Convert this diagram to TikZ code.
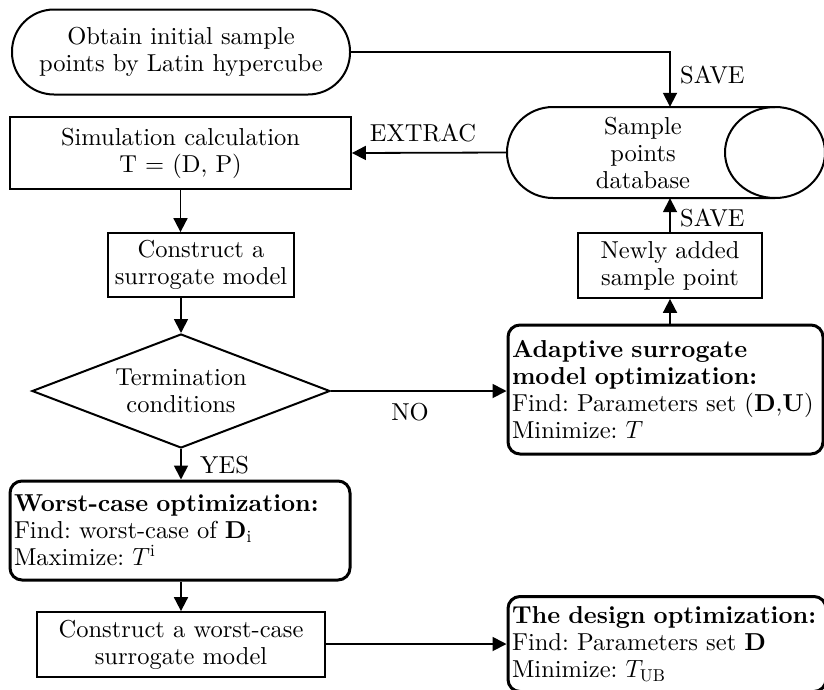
\documentclass[tikz,border=0pt]{standalone}
\usepackage{fontspec}
\setmainfont{lmroman10-regular.otf}[BoldFont=lmroman10-bold.otf,ItalicFont=lmroman10-italic.otf,BoldItalicFont=lmroman10-bolditalic.otf]
\usetikzlibrary{arrows.meta,shapes.geometric,calc}
\frenchspacing
\begin{document}
\begin{tikzpicture}[x=1pt,y=-1pt,
  font=\fontsize{24.5}{27}\selectfont,
  every node/.style={inner sep=0pt},
  plainbox/.style={draw,line width=1.8pt,align=center},
  roundbox/.style={draw,line width=3pt,rounded corners=12pt,align=left,inner xsep=4pt},
  arr/.style={line width=1.8pt,-{Triangle[length=14pt,width=14pt]}},
  lbl/.style={inner sep=0pt}
]
\useasboundingbox (0,0) rectangle (824,689);

% nodes
\node[draw,line width=2pt,rounded corners=42pt,minimum width=338pt,minimum height=85pt,align=center]
  (start) at (181,52) {Obtain initial sample\\points by Latin hypercube};
\node[plainbox,minimum width=341pt,minimum height=72pt] (sim) at (180.5,153)
  {Simulation calculation\\T = (D, P)};
\node[minimum width=318pt,minimum height=91pt] (db) at (666,152.5) {};
\node[align=center] (dbtext) at (643,153) {Sample\\points\\database};
\node[plainbox,minimum width=186pt,minimum height=64pt] (cons) at (201,265)
  {Construct a\\surrogate model};
\node[draw,line width=2pt,diamond,aspect=2.61,minimum width=298pt,minimum height=114pt,align=center]
  (dia) at (181,391) {Termination\\conditions};
\node[roundbox,minimum height=129pt,text width=307pt] (adapt) at (665.5,389.5)
  {\textbf{Adaptive surrogate}\\\textbf{model optimization:}\\Find: Parameters set (\textbf{D},\textbf{U})\\Minimize: $T$};
\node[plainbox,minimum width=184pt,minimum height=65pt] (newly) at (670,265.5)
  {Newly added\\sample point};
\node[roundbox,minimum height=99pt,text width=332pt] (worst) at (180,530.5)
  {\textbf{Worst-case optimization:}\\Find: worst-case of $\mathbf{D}_{\mathrm{i}}$\\Maximize: $T^{\mathrm{i}}$};
\node[plainbox,minimum width=288pt,minimum height=65pt] (cwc) at (181,644.5)
  {Construct a worst-case\\surrogate model};
\node[roundbox,minimum height=95pt,text width=310pt] (design) at (667,644)
  {\textbf{The design optimization:}\\Find: Parameters set \textbf{D}\\Minimize: $T_{\mathrm{UB}}$};

% database cylinder shape
\draw[line width=2pt] (553,107) -- (775,107)
  (553,198) -- (775,198)
  (553,107) arc[start angle=90,end angle=270,x radius=46,y radius=-45.5];
\draw[line width=2pt] (775,152.5) ellipse[x radius=50,y radius=45.5];

% connectors
\coordinate (c1) at (670,52);
\draw[arr] (start.east) -- (c1) -- (c1 |- db.north);
\node[lbl,anchor=west] (save1) at (680,75) {SAVE};
\draw[arr] (db.west) -- (sim.east);
\node[lbl] (extrac) at (423,133) {EXTRAC};
\draw[arr] (sim.south) -- (sim.south |- cons.north);
\draw[arr] (dia.north |- cons.south) -- (dia.north);
\draw[arr] (dia.east) -- (adapt.west |- dia.east);
\node[lbl] (no) at (410,412) {NO};
\draw[arr] (dia.south) -- (dia.south |- worst.north);
\node[lbl,anchor=west] (yes) at (200,465) {YES};
\draw[arr] (dia.south |- worst.south) -- (dia.south |- cwc.north);
\draw[arr] (cwc.east |- design.west) -- (design.west);
\draw[arr] (newly.south |- adapt.north) -- (newly.south);
\draw[arr] (newly.north) -- (newly.north |- db.south);
\node[lbl,anchor=west] (save2) at (680,218) {SAVE};
\end{tikzpicture}
\end{document}
